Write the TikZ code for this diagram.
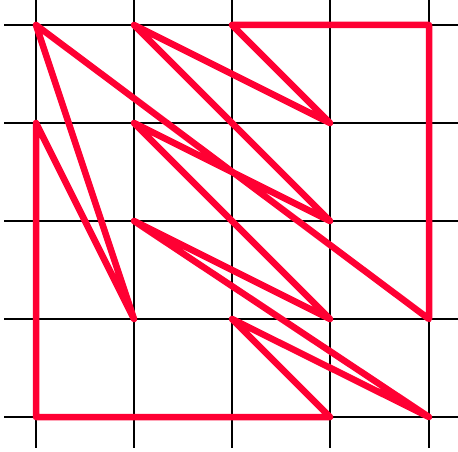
\documentclass[tikz,border=0pt]{standalone}
\definecolor{pathred}{RGB}{255,0,51}
\begin{document}
\begin{tikzpicture}[x=1pt,y=1pt,
  gridline/.style={black,line width=1.8pt},
  redpath/.style={pathred,line width=6.5pt,line join=round,line cap=round}]
\useasboundingbox (0,0) rectangle (458,451);
% grid points p<col><row>, rows counted from top
\foreach \c/\x in {0/36,1/134,2/232,3/330,4/429}{
  \foreach \r/\y in {0/426,1/328,2/230,3/132,4/34}{
    \coordinate (p\c\r) at (\x,\y);
  }
}
\foreach \x in {36,134,232,330,429}
  \draw[gridline] (\x,451) -- (\x,3);
\foreach \y in {426,328,230,132,34}
  \draw[gridline] (4,\y) -- (458,\y);
\draw[redpath] (p01) -- (p13) -- (p00) -- (p43) -- (p40) -- (p20) -- (p31)
  -- (p10) -- (p32) -- (p11) -- (p33) -- (p12) -- (p44) -- (p23) -- (p34)
  -- (p04) -- cycle;
\end{tikzpicture}
\end{document}
